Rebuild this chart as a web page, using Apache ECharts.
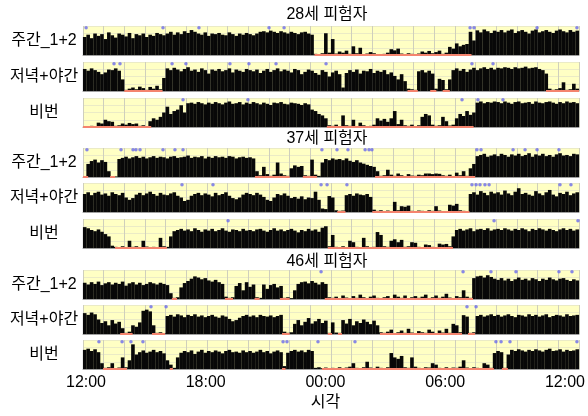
<!DOCTYPE html>
<html>
<head>
<meta charset="utf-8">
<script src="https://cdn.jsdelivr.net/npm/echarts@6/dist/echarts.min.js"></script>
<style>
  html, body { margin: 0; padding: 0; background: #fff; }
  #chart { width: 588px; height: 416px; }
</style>
</head>
<body>
<div id="chart"></div>
<script>
  'use strict';

  // x axis: hours after 12:00, one value every 10 minutes (144 per row)
  var hourTicks = ['12:00', '18:00', '00:00', '06:00', '12:00'];
  var rowNames = ['주간_1+2', '저녁+야간', '비번'];
  var subjectNames = ['28세 피험자', '37세 피험자', '46세 피험자'];

  // 28세
  var act28Day = [
    62,70,58,74,66,72,55,78,68,60,74,70,64,76,58,72,68,74,62,70,66,76,72,68,
    74,80,70,78,72,82,76,86,80,74,70,78,66,74,72,76,70,68,78,72,66,74,70,76,
    72,68,74,80,82,78,84,80,76,82,78,74,80,76,72,78,80,74,70,4,0,6,75,8,
    55,5,12,8,15,4,30,6,25,3,5,10,6,3,0,4,8,20,16,22,5,3,6,4,
    2,5,12,8,14,6,10,15,4,8,28,22,40,30,35,38,80,50,85,78,88,82,76,84,
    80,86,78,84,88,76,82,86,80,74,84,88,78,82,86,80,76,84,88,82,78,86,80,84
  ];
  var act28Eve = [
    76,70,78,72,66,58,64,74,72,78,70,40,4,8,12,6,15,10,4,14,8,18,6,45,
    78,72,80,74,68,76,82,70,74,66,78,72,60,74,70,76,68,72,78,64,74,70,66,76,
    72,68,74,62,70,76,66,72,78,68,74,70,64,76,72,58,66,74,70,62,56,72,66,50,
    64,70,58,12,62,72,66,74,60,70,68,76,62,70,66,72,58,64,52,40,58,34,8,6,
    4,68,72,64,70,60,8,42,38,6,40,72,78,70,76,66,74,80,72,78,82,76,80,74,
    80,78,82,80,76,82,78,80,84,78,80,82,76,72,60,8,4,6,10,30,4,6,25,8
  ];
  var act28Off = [
    2,0,4,0,15,12,25,20,18,4,6,12,8,14,10,12,4,6,2,20,30,25,35,50,
    70,45,55,60,75,50,82,84,80,86,82,78,84,80,86,82,78,84,88,80,82,86,78,84,
    80,86,82,78,84,80,76,84,82,86,80,78,84,82,80,76,82,78,60,55,45,40,30,6,
    4,8,2,40,6,4,25,3,15,6,2,4,8,30,22,28,18,30,55,10,25,6,4,8,
    3,6,35,45,40,8,4,6,35,20,5,8,30,45,38,55,42,50,84,88,82,86,84,88,
    86,82,88,84,80,86,88,82,84,86,80,88,84,82,86,88,84,80,86,82,88,84,86,82
  ];

  // 37세
  var act37Day = [
    0,45,55,60,50,58,52,20,0,2,62,66,70,64,68,72,66,70,64,68,72,66,70,68,
    64,70,72,66,68,70,74,66,70,68,72,64,70,66,72,68,70,66,72,70,64,68,70,66,
    68,64,20,6,35,10,4,8,50,12,6,4,30,40,35,38,6,4,60,8,4,50,62,58,
    64,60,62,58,64,56,52,58,50,46,42,38,35,20,4,6,25,8,4,12,6,3,10,5,
    4,8,6,12,12,10,12,11,6,4,8,3,15,6,20,4,30,45,72,76,80,70,74,78,
    72,80,76,70,78,74,80,72,76,82,70,78,74,80,72,76,70,78,82,74,76,72,80,78
  ];
  var act37Eve = [
    62,68,58,66,70,60,64,56,68,62,58,66,50,42,48,60,66,58,64,70,62,56,66,60,
    58,64,68,56,50,38,42,56,62,66,58,64,60,54,66,58,62,68,56,48,44,50,60,66,
    62,58,66,60,52,42,38,50,62,58,64,56,48,52,46,54,44,50,48,70,42,12,10,55,
    50,6,4,5,58,62,56,64,60,58,62,52,8,4,6,3,5,2,35,6,20,18,22,4,
    3,5,4,2,6,4,20,5,3,2,25,22,28,6,4,3,62,68,60,72,66,58,70,64,
    68,60,74,64,58,70,82,62,66,60,56,72,64,58,68,76,60,54,66,62,70,58,64,68
  ];
  var act37Off = [
    72,68,62,58,64,56,48,40,8,4,2,6,3,25,4,6,3,25,5,2,4,3,35,6,
    4,40,58,62,66,60,64,58,68,62,56,64,60,66,58,62,68,60,56,64,62,58,66,60,
    62,58,64,66,60,56,62,68,60,64,58,62,66,60,54,62,58,66,60,64,56,70,75,6,
    45,4,3,6,2,25,20,4,3,35,6,2,4,55,45,6,4,25,30,20,28,4,6,20,
    18,4,3,12,10,4,3,15,12,14,6,40,62,66,60,64,68,58,64,66,62,68,60,64,
    66,62,68,64,60,66,62,68,64,58,66,62,68,64,60,66,62,58,64,68,62,66,60,64
  ];

  // 46세
  var act46Day = [
    56,50,58,52,60,48,54,58,50,56,52,60,46,54,58,50,56,48,52,58,54,50,56,52,
    48,20,4,6,40,55,62,70,78,74,68,72,64,60,66,58,52,8,4,6,45,55,30,58,
    42,50,6,4,50,35,48,52,40,45,4,6,3,30,52,58,60,54,62,56,50,58,52,6,
    4,8,2,12,5,3,10,4,15,6,3,8,12,4,2,6,10,3,15,8,4,12,3,6,
    10,4,8,15,3,6,12,4,8,18,5,3,10,6,30,8,4,72,78,80,74,82,76,70,
    66,72,64,70,62,68,74,66,70,64,72,68,62,70,66,74,68,64,70,72,66,62,68,64
  ];
  var act46Eve = [
    72,66,74,68,50,38,44,30,48,36,42,20,4,8,30,25,40,80,84,78,30,4,6,3,
    62,66,60,68,64,58,66,62,68,60,64,58,62,66,60,56,64,60,52,44,48,56,62,66,
    60,64,58,66,62,60,64,58,62,66,8,4,6,35,48,30,42,55,36,44,52,38,46,4,
    40,5,4,48,36,52,30,44,38,50,42,34,46,30,6,4,8,15,3,6,12,4,18,5,
    3,10,6,4,15,8,3,12,5,18,4,35,30,6,65,60,4,6,62,66,60,64,68,62,
    66,60,64,68,62,58,66,64,60,68,62,66,60,64,68,58,62,66,64,60,68,62,64,66
  ];
  var act46Off = [
    66,70,62,68,58,20,4,6,20,3,5,40,6,30,85,50,58,64,56,60,66,58,62,54,
    30,15,4,40,56,62,58,64,52,60,66,56,62,58,64,60,54,62,66,58,60,56,64,58,
    62,56,60,66,58,62,54,60,64,58,10,56,62,66,60,64,58,66,62,4,6,3,5,2,
    4,3,6,2,5,8,20,4,3,6,25,5,2,8,4,3,6,55,40,35,45,6,4,40,
    8,4,3,6,5,20,15,4,3,6,2,5,4,8,30,5,3,6,4,2,20,15,4,55,
    62,58,4,50,66,62,68,64,60,66,62,68,64,60,66,70,62,64,68,60,66,62,64,68
  ];

  // rest intervals (hours after 12:00)
  var rest28Day = [[11.2, 18.8]];
  var rest28Eve = [[2.0, 3.85], [15.7, 16.2], [16.8, 17.1], [17.4, 17.75], [22.4, 24]];
  var rest28Off = [[0, 3.3], [11.8, 18.9]];
  var rest37Day = [[0, 0.25], [1.31, 1.55], [8.32, 10.0], [10.64, 11.32], [14.13, 18.97]];
  var rest37Eve = [[12.3, 12.7], [14.0, 18.7]];
  var rest37Off = [[1.55, 4.06], [11.85, 17.9]];
  var rest46Day = [[4.3, 4.55], [6.87, 7.26], [8.3, 8.55], [9.53, 10.0], [11.7, 18.87]];
  var rest46Eve = [[1.8, 2.4], [3.34, 3.97], [9.63, 10.0], [11.85, 12.05], [12.34, 12.53], [14.37, 18.34], [18.63, 18.97]];
  var rest46Off = [[0.97, 2.13], [4.2, 4.35], [9.63, 9.8], [11.56, 19.88], [20.27, 20.56]];

  // event markers (hours after 12:00)
  var dots28Day = [0.15, 3.87, 5.61, 9.0, 9.73, 18.73, 18.92, 21.97, 23.9];
  var dots28Eve = [1.5, 1.79, 4.31, 4.98, 7.11, 8.03, 9.34, 11.76, 18.82, 19.84];
  var dots28Off = [4.84, 7.98, 18.34, 19.11, 20.32];
  var dots37Day = [0.19, 1.84, 2.42, 2.56, 2.76, 3.87, 4.45, 4.84, 11.56, 12.29, 12.82, 13.65, 13.84, 13.98, 19.06, 19.26, 20.81, 21.39, 21.97, 23.03];
  var dots37Eve = [4.79, 6.29, 11.52, 11.81, 12.77, 18.82, 19.02, 19.21, 19.45, 19.65, 23.08, 23.61];
  var dots37Off = [7.02, 19.89, 23.95];
  var dots46Day = [11.52, 18.39, 19.74, 20.95, 23.03, 23.66];
  var dots46Eve = [3.29, 4.02, 18.58, 19.02];
  var dots46Off = [0.77, 1.89, 2.32, 2.9, 9.68, 9.87, 11.37, 13.16, 19.98, 20.23, 20.66, 23.9];

  var FONT = '"Liberation Sans", "Noto Sans CJK KR", sans-serif';

  var panels = [
    { act: act28Day, rest: rest28Day, dots: dots28Day },
    { act: act28Eve, rest: rest28Eve, dots: dots28Eve },
    { act: act28Off, rest: rest28Off, dots: dots28Off },
    { act: act37Day, rest: rest37Day, dots: dots37Day },
    { act: act37Eve, rest: rest37Eve, dots: dots37Eve },
    { act: act37Off, rest: rest37Off, dots: dots37Off },
    { act: act46Day, rest: rest46Day, dots: dots46Day },
    { act: act46Eve, rest: rest46Eve, dots: dots46Eve },
    { act: act46Off, rest: rest46Off, dots: dots46Off }
  ];
  var panelTops = [26, 62, 98, 148, 183, 219, 270, 305, 340];
  var titleY = [15, 139, 262];

  var grids = [], xAxes = [], yAxes = [], series = [], texts = [];

  panels.forEach(function(p, i) {
    grids.push({
      left: 83, right: 9, top: panelTops[i], height: 29,
      show: true, backgroundColor: '#ffffc4', borderWidth: 0
    });
    xAxes.push({
      gridIndex: i, type: 'value', min: 0, max: 24, interval: 1,
      axisLabel: { show: false }, axisTick: { show: false },
      axisLine: { lineStyle: { color: '#a0a0a0' } },
      splitLine: { lineStyle: { color: '#cfcfbc', width: 1 } }
    });
    yAxes.push({
      gridIndex: i, type: 'value', min: 0, max: 100, interval: 25,
      axisLabel: { show: false }, axisTick: { show: false }, axisLine: { show: false },
      splitLine: { lineStyle: { color: '#ebebc6', width: 1 } }
    });
    series.push({
      type: 'bar',
      xAxisIndex: i, yAxisIndex: i,
      barWidth: 3.6,
      itemStyle: { color: '#080808' },
      data: p.act.map(function(v, k) { return [(k + 0.5) / 6, v]; }),
      markLine: {
        silent: true,
        symbol: ['none', 'none'],
        label: { show: false },
        lineStyle: { color: '#f4846e', width: 2, type: 'solid' },
        data: p.rest.map(function(r) {
          return [{ coord: [r[0], 1.5] }, { coord: [r[1], 1.5] }];
        })
      }
    });
    series.push({
      type: 'scatter',
      xAxisIndex: i, yAxisIndex: i,
      symbolSize: 3.5,
      itemStyle: { color: '#6a6aee' },
      data: p.dots.map(function(h) { return [h, 94]; })
    });
    texts.push({
      type: 'text',
      style: {
        text: rowNames[i % 3], x: 44, y: panelTops[i] + 14.5,
        align: 'center', verticalAlign: 'middle',
        fontSize: 16, fontFamily: FONT, fill: '#000'
      }
    });
  });

  subjectNames.forEach(function(name, j) {
    texts.push({
      type: 'text',
      style: {
        text: name, x: 327, y: titleY[j],
        align: 'center', verticalAlign: 'middle',
        fontSize: 16, fontFamily: FONT, fill: '#000'
      }
    });
  });

  // time labels under the last row
  grids.push({ left: 86, right: 21, top: 369, height: 1 });
  xAxes.push({
    gridIndex: 9, type: 'value', min: 0, max: 24, interval: 6,
    axisLine: { show: false }, axisTick: { show: false }, splitLine: { show: false },
    axisLabel: {
      margin: 5, fontSize: 16, fontFamily: FONT, color: '#000',
      showMinLabel: true, showMaxLabel: true,
      formatter: function(v) { return hourTicks[Math.round(v / 6)]; }
    },
    name: '시각', nameLocation: 'middle', nameGap: 25,
    nameTextStyle: { fontSize: 16, fontFamily: FONT, color: '#000' }
  });
  yAxes.push({ gridIndex: 9, type: 'value', show: false });

  var myChart = echarts.init(document.getElementById('chart'));
  var option = {
    animation: false,
    backgroundColor: '#fff',
    grid: grids,
    xAxis: xAxes,
    yAxis: yAxes,
    series: series,
    graphic: texts
  };
  myChart.setOption(option);
</script>
</body>
</html>
